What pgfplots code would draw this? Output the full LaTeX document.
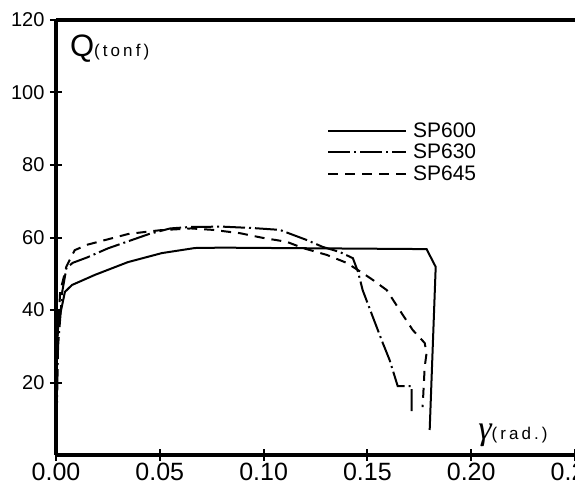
\documentclass[border=0pt]{standalone}
\usepackage{fontspec}
\setmainfont{Liberation Sans}
\newfontfamily\gfont{Liberation Serif}
\usepackage{pgfplots}
\pgfplotsset{compat=1.18}
\begin{document}
\begin{tikzpicture}
\begin{axis}[
  scale only axis, width=519pt, height=435pt,
  xmin=0, xmax=0.25, ymin=0, ymax=120,
  axis x line*=box, axis y line*=left,
  axis line style={line width=3.2pt},
  xtick={0,0.05,0.10,0.15,0.20,0.25}, ytick={20,40,60,80,100,120},
  xtick pos=left,
  scaled x ticks=false,
  tick align=center, major tick length=12pt,
  tick style={line width=2pt, black},
  /pgf/number format/assume math mode=true,
  xticklabel style={font=\fontsize{25}{25}\selectfont, inner sep=2pt, /pgf/number format/.cd, fixed, fixed zerofill, precision=2},
  yticklabel style={font=\fontsize{20}{20}\selectfont, xshift=-2pt},
  legend style={draw=none, fill=none, at={(axis cs:0.1305,91.6)}, anchor=north west,
    font=\fontsize{21}{21}\selectfont, row sep=5pt, inner sep=0pt, nodes={inner ysep=0pt, inner xsep=6pt}},
  legend cell align=left,
  legend image code/.code={\draw[#1] (0pt,0pt) -- (78pt,0pt);},
  clip=false,
]
\addplot[black, line width=2pt] coordinates {
(0,0) (0.0005,30) (0.001,36) (0.0043,45) (0.0077,46.9) (0.0188,49.7) (0.0346,53.2)
(0.051,55.7) (0.0669,57.1) (0.08,57.2) (0.1785,56.8) (0.1829,51.9) (0.180,6.9)
};
\addlegendentry{SP600}
\addplot[black, line width=2pt, dash pattern=on 22pt off 4pt on 2pt off 4pt] coordinates {
(0,0) (0.001,30) (0.003,45) (0.005,51.5) (0.008,53) (0.015,54.5) (0.025,57) (0.035,59)
(0.045,61) (0.055,62.5) (0.0645,62.9) (0.08,63) (0.095,62.6) (0.1078,62.1) (0.1208,59.3)
(0.1285,57.4) (0.1367,56) (0.143,54.3) (0.1455,50.5) (0.1477,45.5) (0.1526,38.1)
(0.1574,30.9) (0.1607,26.2) (0.1646,19) (0.1713,19) (0.1713,11.9)
};
\addlegendentry{SP630}
\addplot[black, line width=2pt, dash pattern=on 10pt off 7pt] coordinates {
(0,0) (0.0005,30) (0.002,45) (0.005,52) (0.009,56.5) (0.015,58) (0.025,59.5) (0.035,61)
(0.05,62) (0.065,62.5) (0.0756,62.1) (0.0885,61.2) (0.0996,59.9) (0.1112,58.8) (0.1189,57.1)
(0.1304,55.2) (0.14,53) (0.1477,50.2) (0.1526,48.3) (0.1593,45.5) (0.1655,40) (0.1718,34.5)
(0.1776,30.9) (0.1785,28.1) (0.1776,24.3) (0.1766,13.2)
};
\addlegendentry{SP645}
\coordinate (O) at (rel axis cs:0,0);
\coordinate (TR) at (rel axis cs:1,1);
\draw[gray!60, line width=1pt] (rel axis cs:1,0) -- (rel axis cs:1,0.52);
\node[anchor=base west, inner sep=0pt] at (axis cs:0.0067,109.8)
  {\fontsize{31}{31}\selectfont Q\fontsize{17}{17}\selectfont\addfontfeatures{LetterSpace=18}(tonf)};
\node[anchor=base west, inner sep=0pt] at (axis cs:0.2033,4.3)
  {{\gfont\itshape\fontsize{34}{34}\selectfont γ}\fontsize{17}{17}\selectfont\addfontfeatures{LetterSpace=18}(rad.)};
\end{axis}
\pgfresetboundingbox
\path[use as bounding box] ([shift={(-56pt,-33pt)}]O) rectangle ([shift={(0pt,20pt)}]TR);
\end{tikzpicture}
\end{document}
